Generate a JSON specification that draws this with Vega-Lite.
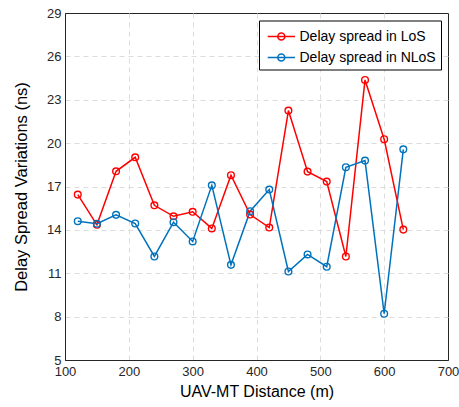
{
  "$schema": "https://vega.github.io/schema/vega-lite/v6.json",
  "width": 383,
  "height": 347,
  "autosize": {"type": "none"},
  "padding": {"left": 65, "top": 13, "right": 11, "bottom": 47},
  "background": "white",
  "config": {
    "font": "Liberation Sans",
    "view": {"stroke": "#262626", "strokeWidth": 1}
  },
  "data": {
    "values": [
      {"d": 120, "v": 16.44, "s": "Delay spread in LoS"},
      {"d": 150, "v": 14.35, "s": "Delay spread in LoS"},
      {"d": 180, "v": 18.05, "s": "Delay spread in LoS"},
      {"d": 210, "v": 19.02, "s": "Delay spread in LoS"},
      {"d": 240, "v": 15.7, "s": "Delay spread in LoS"},
      {"d": 270, "v": 14.94, "s": "Delay spread in LoS"},
      {"d": 300, "v": 15.25, "s": "Delay spread in LoS"},
      {"d": 330, "v": 14.1, "s": "Delay spread in LoS"},
      {"d": 360, "v": 17.78, "s": "Delay spread in LoS"},
      {"d": 390, "v": 15.06, "s": "Delay spread in LoS"},
      {"d": 420, "v": 14.16, "s": "Delay spread in LoS"},
      {"d": 450, "v": 22.25, "s": "Delay spread in LoS"},
      {"d": 480, "v": 18.03, "s": "Delay spread in LoS"},
      {"d": 510, "v": 17.34, "s": "Delay spread in LoS"},
      {"d": 540, "v": 12.16, "s": "Delay spread in LoS"},
      {"d": 570, "v": 24.37, "s": "Delay spread in LoS"},
      {"d": 600, "v": 20.27, "s": "Delay spread in LoS"},
      {"d": 630, "v": 14.02, "s": "Delay spread in LoS"},
      {"d": 120, "v": 14.6, "s": "Delay spread in NLoS"},
      {"d": 150, "v": 14.42, "s": "Delay spread in NLoS"},
      {"d": 180, "v": 15.04, "s": "Delay spread in NLoS"},
      {"d": 210, "v": 14.44, "s": "Delay spread in NLoS"},
      {"d": 240, "v": 12.16, "s": "Delay spread in NLoS"},
      {"d": 270, "v": 14.53, "s": "Delay spread in NLoS"},
      {"d": 300, "v": 13.2, "s": "Delay spread in NLoS"},
      {"d": 330, "v": 17.08, "s": "Delay spread in NLoS"},
      {"d": 360, "v": 11.58, "s": "Delay spread in NLoS"},
      {"d": 390, "v": 15.29, "s": "Delay spread in NLoS"},
      {"d": 420, "v": 16.79, "s": "Delay spread in NLoS"},
      {"d": 450, "v": 11.12, "s": "Delay spread in NLoS"},
      {"d": 480, "v": 12.3, "s": "Delay spread in NLoS"},
      {"d": 510, "v": 11.45, "s": "Delay spread in NLoS"},
      {"d": 540, "v": 18.33, "s": "Delay spread in NLoS"},
      {"d": 570, "v": 18.79, "s": "Delay spread in NLoS"},
      {"d": 600, "v": 8.2, "s": "Delay spread in NLoS"},
      {"d": 630, "v": 19.57, "s": "Delay spread in NLoS"}
    ]
  },
  "mark": {
    "type": "line",
    "strokeWidth": 1.5,
    "point": {"filled": false, "size": 45, "strokeWidth": 1.4}
  },
  "encoding": {
    "x": {
      "field": "d",
      "type": "quantitative",
      "scale": {"domain": [100, 700], "nice": false},
      "axis": {
        "title": "UAV-MT Distance (m)",
        "values": [100, 200, 300, 400, 500, 600, 700],
        "grid": true,
        "gridDash": [5, 4],
        "gridColor": "#dcdcdc",
        "gridOpacity": {"condition": {"test": "datum.value === 100 || datum.value === 700", "value": 0}, "value": 1},
        "domainColor": "#262626",
        "ticks": false,
        "labelFontSize": 13,
        "labelColor": "#262626",
        "labelPadding": 5,
        "labelFlush": false,
        "titleFontSize": 16,
        "titleFontWeight": "normal",
        "titleColor": "#000000",
        "titlePadding": 5
      }
    },
    "y": {
      "field": "v",
      "type": "quantitative",
      "scale": {"domain": [5, 29], "nice": false, "zero": false},
      "axis": {
        "title": "Delay Spread Variations (ns)",
        "values": [5, 8, 11, 14, 17, 20, 23, 26, 29],
        "grid": true,
        "gridDash": [5, 4],
        "gridColor": "#dcdcdc",
        "gridOpacity": {"condition": {"test": "datum.value === 5 || datum.value === 29", "value": 0}, "value": 1},
        "domainColor": "#262626",
        "ticks": false,
        "labelFontSize": 13,
        "labelColor": "#262626",
        "labelPadding": 4,
        "labelFlush": false,
        "titleFontSize": 16.5,
        "titleFontWeight": "normal",
        "titleColor": "#000000",
        "titlePadding": 17
      }
    },
    "color": {
      "field": "s",
      "type": "nominal",
      "scale": {
        "domain": ["Delay spread in LoS", "Delay spread in NLoS"],
        "range": ["#ff0000", "#0072bd"]
      },
      "legend": {
        "title": null,
        "orient": "none",
        "legendX": 194,
        "legendY": 7.5,
        "strokeColor": "#000000",
        "fillColor": "#ffffff",
        "padding": 5,
        "symbolType": "M-0.73,0L2,0M0.98,0A0.35,0.35,0,1,1,0.28,0A0.35,0.35,0,1,1,0.98,0",
        "symbolSize": 400,
        "symbolStrokeWidth": 1.5,
        "symbolFillColor": "transparent",
        "labelFontSize": 14,
        "labelColor": "#000000",
        "labelOffset": 13.5,
        "rowPadding": 3
      }
    }
  }
}
